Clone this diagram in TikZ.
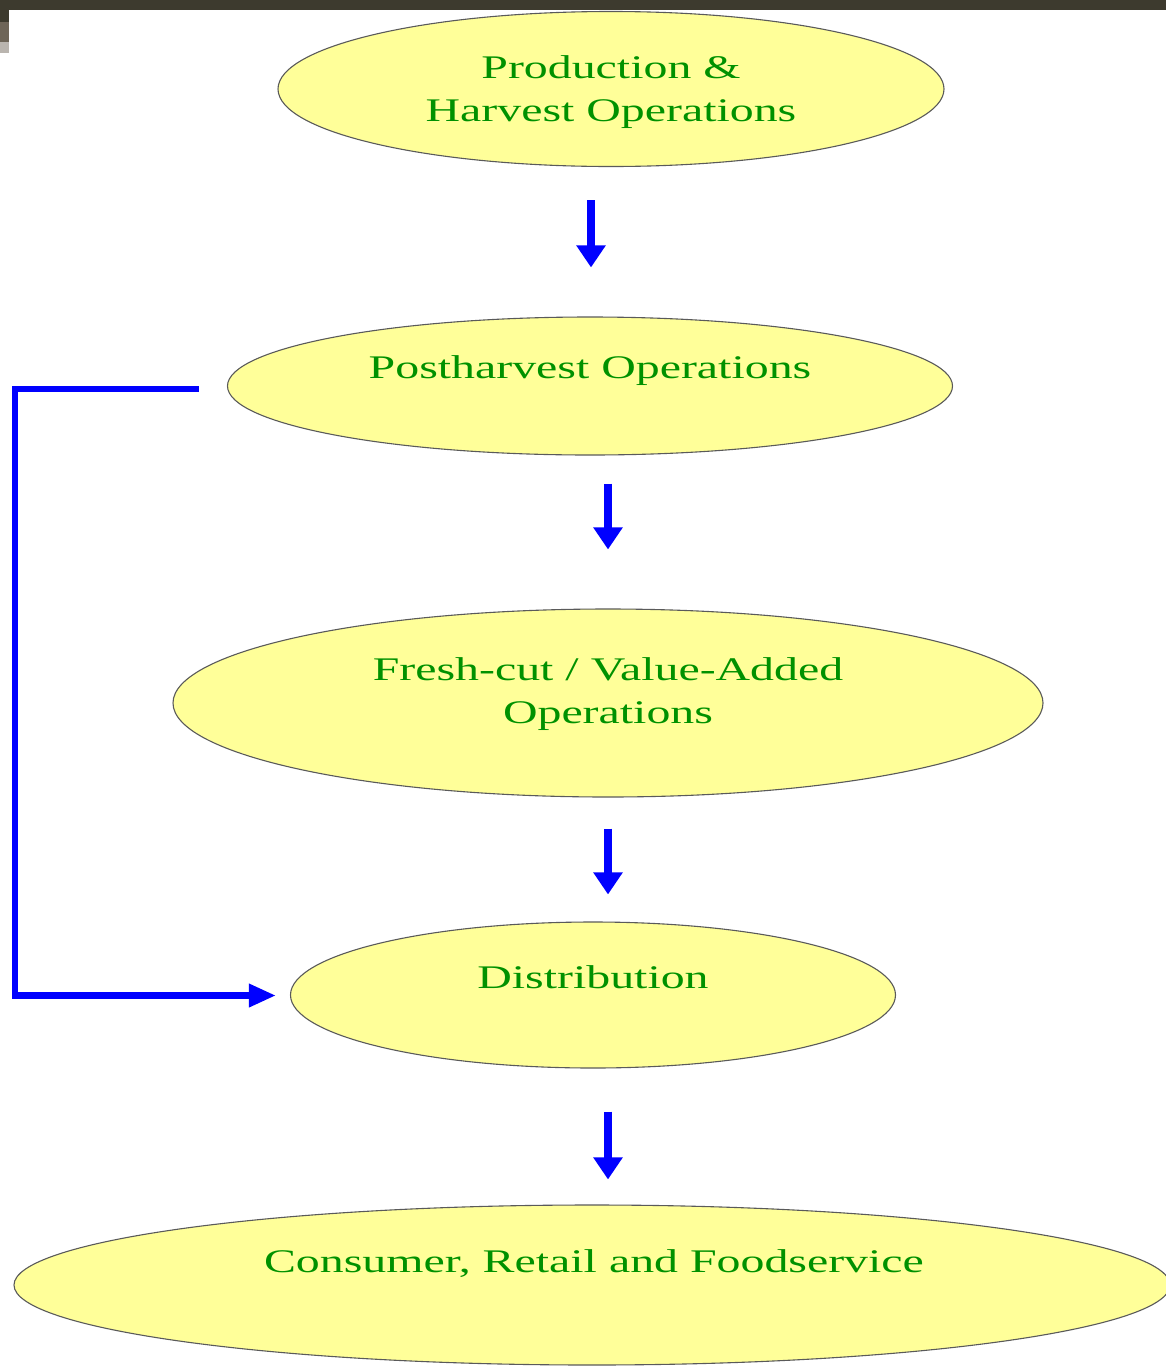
\documentclass[tikz,border=0pt]{standalone}
\usepackage{fontspec}
\setmainfont{Liberation Serif}
\usetikzlibrary{shapes.geometric,arrows.meta}
\definecolor{barDark}{RGB}{61,58,46}
\definecolor{barMid}{RGB}{110,101,88}
\definecolor{barLight}{RGB}{186,181,175}
\definecolor{blobFill}{RGB}{255,255,153}
\definecolor{blobEdge}{RGB}{90,90,90}
\definecolor{txtGreen}{RGB}{0,145,0}
\definecolor{flowBlue}{RGB}{0,0,255}
\begin{document}
\begin{tikzpicture}[x=1pt,y=-1pt,
  blob/.style={ellipse, draw=blobEdge, line width=1.1pt, fill=blobFill, inner sep=0pt},
  lbl/.style={text=txtGreen, align=center, inner sep=0pt, transform shape, xscale=1.45,
    font=\fontsize{33}{43}\selectfont},
  flow/.style={draw=flowBlue, line width=8.5pt, -{Triangle[width=28pt,length=22pt]}},
  loopback/.style={draw=flowBlue, line width=6.5pt, -{Triangle[width=22pt,length=27pt]}}]
\useasboundingbox (0,0) rectangle (1166,1366);
\fill[white] (0,0) rectangle (1166,1366);

% window frame strip
\fill[barDark] (0,0) rectangle (1166,10);
\fill[barDark] (0,10) rectangle (9,22);
\fill[barMid] (0,22) rectangle (9,42);
\fill[barLight] (0,42) rectangle (9,53);

% stages
\node[blob, minimum width=666, minimum height=155] (prod) at (611,89) {};
\node[blob, minimum width=725, minimum height=138] (post) at (590,386) {};
\node[blob, minimum width=870, minimum height=188] (fresh) at (608,703) {};
\node[blob, minimum width=605, minimum height=146] (dist) at (593,995) {};
\node[blob, minimum width=1156, minimum height=160] (cons) at (592,1285) {};

\node[lbl] (prodT) at (611,92) {Production \&\\Harvest Operations};
\node[lbl] (postT) at (590,371) {Postharvest Operations};
\node[lbl] (freshT) at (608,694) {Fresh-cut / Value-Added\\Operations};
\node[lbl] (distT) at (593,977) {Distribution};
\node[lbl] (consT) at (594,1264) {Consumer, Retail and Foodservice};

% main flow
\draw[flow] ([shift={(-20,33)}]prod.south) -- ([shift={(1,-49)}]post.north);
\draw[flow] ([shift={(18,28)}]post.south) -- ([shift={(0,-59)}]fresh.north);
\draw[flow] ([shift={(0,31)}]fresh.south) -- ([shift={(15,-27)}]dist.north);
\draw[flow] ([shift={(15,43)}]dist.south) -- ([shift={(16,-25)}]cons.north);

% bypass from postharvest straight to distribution
\coordinate (bendTop) at (15,389);
\coordinate (bendBot) at (15,995.5);
\draw[loopback, line join=miter] ([shift={(-28,3)}]post.west) -- (bendTop) -- (bendBot)
  -- ([shift={(-14,0.5)}]dist.west);
\end{tikzpicture}
\end{document}
